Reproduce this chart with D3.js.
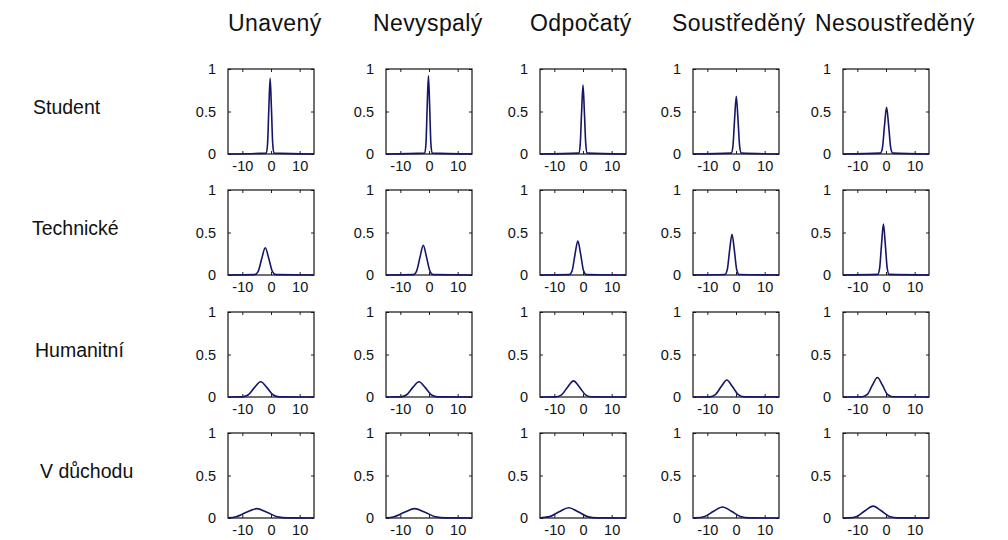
<!DOCTYPE html>
<html>
<head>
<meta charset="utf-8">
<script src="https://cdn.jsdelivr.net/npm/d3@7"></script>
<style>
  html, body { margin: 0; padding: 0; background: #ffffff; }
  svg { display: block; }
  text { font-family: "Liberation Sans", Arial, sans-serif; fill: #111; }
</style>
</head>
<body>
<svg id="chart" width="1008" height="540"></svg>
<script>
// Column (state) and row (group) labels
const columnLabels = ["Unavený", "Nevyspalý", "Odpočatý", "Soustředěný", "Nesoustředěný"];
const rowLabels = ["Student", "Technické", "Humanitní", "V důchodu"];

// Axis ticks shared by every panel
const xTicks = [-10, 0, 10];
const yTicks = [0, 0.5, 1];
const xDomain = [-15, 15];
const yDomain = [0, 1];

// Density curves, one [x, y] list per column, for each row
const studentCurves = [
  [[-15,0],[-1.65,0.01],[-1.2,0.12],[-0.75,0.54],[-0.3,0.89],[0.15,0.54],[0.6,0.12],[1.05,0.01],[15,0]],
  [[-15,0],[-1.5,0.01],[-1.06,0.12],[-0.63,0.56],[-0.2,0.92],[0.23,0.56],[0.66,0.12],[1.1,0.01],[15,0]],
  [[-15,0],[-1.47,0.01],[-0.98,0.11],[-0.49,0.49],[0,0.81],[0.49,0.49],[0.98,0.11],[1.47,0.01],[15,0]],
  [[-15,0],[-1.67,0.01],[-1.08,0.09],[-0.49,0.41],[0.1,0.68],[0.69,0.41],[1.28,0.09],[1.87,0.01],[15,0]],
  [[-15,0],[-1.99,0.01],[-1.26,0.07],[-0.53,0.33],[0.2,0.55],[0.93,0.33],[1.66,0.07],[2.39,0.01],[15,0]]
];
const technickeCurves = [
  [[-15,0],[-5.75,0.004],[-4.5,0.04],[-3.25,0.19],[-2,0.32],[-0.75,0.19],[0.5,0.04],[1.75,0.004],[15,0]],
  [[-15,0],[-5.42,0.004],[-4.28,0.05],[-3.14,0.21],[-2,0.35],[-0.86,0.21],[0.28,0.05],[1.42,0.004],[15,0]],
  [[-15,0],[-4.8,0.004],[-3.8,0.05],[-2.8,0.24],[-1.8,0.40],[-0.8,0.24],[0.2,0.05],[1.2,0.004],[15,0]],
  [[-15,0],[-3.9,0.005],[-3.06,0.06],[-2.23,0.29],[-1.4,0.48],[-0.57,0.29],[0.26,0.06],[1.1,0.005],[15,0]],
  [[-15,0],[-2.88,0.007],[-2.22,0.08],[-1.56,0.36],[-0.9,0.60],[-0.24,0.36],[0.42,0.08],[1.08,0.007],[15,0]]
];
const humanitniCurves = [
  [[-15,0],[-10.2,0.002],[-8,0.024],[-5.8,0.11],[-3.6,0.18],[-1.4,0.11],[0.8,0.024],[3,0.002],[15,0]],
  [[-15,0],[-10.1,0.002],[-7.9,0.024],[-5.7,0.11],[-3.5,0.18],[-1.3,0.11],[0.9,0.024],[3.1,0.002],[15,0]],
  [[-15,0],[-9.6,0.002],[-7.5,0.026],[-5.4,0.115],[-3.3,0.19],[-1.2,0.115],[0.9,0.026],[3,0.002],[15,0]],
  [[-15,0],[-9.2,0.002],[-7.2,0.027],[-5.2,0.12],[-3.2,0.20],[-1.2,0.12],[0.8,0.027],[2.8,0.002],[15,0]],
  [[-15,0],[-8.25,0.003],[-6.5,0.03],[-4.75,0.14],[-3,0.23],[-1.25,0.14],[0.5,0.03],[2.25,0.003],[15,0]]
];
const duchodCurves = [
  [[-15,0.001],[-12.2,0.015],[-8.6,0.067],[-5,0.11],[-1.4,0.067],[2.2,0.015],[5.8,0.001],[15,0]],
  [[-15,0.001],[-12.2,0.015],[-8.6,0.067],[-5,0.11],[-1.4,0.067],[2.2,0.015],[5.8,0.001],[15,0]],
  [[-15,0],[-14.9,0.001],[-11.6,0.016],[-8.3,0.073],[-5,0.12],[-1.7,0.073],[1.6,0.016],[4.9,0.001],[15,0]],
  [[-15,0],[-14,0.001],[-10.9,0.018],[-7.8,0.079],[-4.7,0.13],[-1.6,0.079],[1.5,0.018],[4.6,0.001],[15,0]],
  [[-15,0],[-13.05,0.002],[-10.2,0.019],[-7.35,0.085],[-4.5,0.14],[-1.65,0.085],[1.2,0.019],[4.05,0.002],[15,0]]
];
const curvesByRow = [studentCurves, technickeCurves, humanitniCurves, duchodCurves];

// Grid layout of the small panels
const panelLefts = [228, 386, 540, 693, 843];
const panelTops = [69, 190, 312, 433];
const panelW = 86, panelH = 85;
const titleLefts = [228, 373, 530, 672, 815];
const rowLabelLefts = [33, 32, 35, 40];
const lineColor = "#15156a";

const svg = d3.select("#chart");

// Column headings
svg.selectAll("text.col-title")
  .data(columnLabels)
  .join("text")
  .attr("class", "col-title")
  .attr("x", (d, i) => titleLefts[i])
  .attr("y", 31)
  .attr("font-size", 23)
  .attr("letter-spacing", 0.4)
  .text(d => d);

// Row headings
svg.selectAll("text.row-title")
  .data(rowLabels)
  .join("text")
  .attr("class", "row-title")
  .attr("x", (d, i) => rowLabelLefts[i])
  .attr("y", (d, i) => panelTops[i] + 45)
  .attr("font-size", 19.5)
  .text(d => d);

const x = d3.scaleLinear().domain(xDomain).range([0, panelW]);
const y = d3.scaleLinear().domain(yDomain).range([panelH, 0]);

const line = d3.line()
  .x(d => x(d[0]))
  .y(d => y(d[1]))
  .curve(d3.curveMonotoneX);

curvesByRow.forEach((rowCurves, r) => {
  rowCurves.forEach((pts, c) => {
    const g = svg.append("g")
      .attr("transform", `translate(${panelLefts[c]},${panelTops[r]})`);

    // Axes with inward ticks on all four sides of the box
    const yAxis = g.append("g").call(
      d3.axisLeft(y).tickValues(yTicks).tickSize(-3).tickPadding(12)
        .tickFormat(d3.format("~g")));
    const yAxisR = g.append("g").attr("transform", `translate(${panelW},0)`)
      .call(d3.axisRight(y).tickValues(yTicks).tickSize(-3).tickFormat(""));
    const xAxis = g.append("g").attr("transform", `translate(0,${panelH})`)
      .call(d3.axisBottom(x).tickValues(xTicks).tickSize(-3).tickPadding(7)
        .tickFormat(d3.format("~g")));
    const xAxisT = g.append("g")
      .call(d3.axisTop(x).tickValues(xTicks).tickSize(-3).tickFormat(""));

    [yAxis, yAxisR, xAxis, xAxisT].forEach(a => {
      a.select(".domain").remove();
      a.selectAll("line").attr("stroke", "#222").attr("stroke-width", 1);
      a.selectAll("text")
        .attr("font-size", 14.5)
        .attr("font-family", "'Liberation Sans', Arial, sans-serif")
        .attr("fill", "#111");
    });
    xAxis.selectAll("text").text(d => d < 0 ? "-" + Math.abs(d) : d);

    // Box
    g.append("rect")
      .attr("x", 0).attr("y", 0)
      .attr("width", panelW).attr("height", panelH)
      .attr("fill", "none")
      .attr("stroke", "#111")
      .attr("stroke-width", 1.2);

    // Density curve
    g.append("path")
      .datum(pts)
      .attr("d", line)
      .attr("fill", "none")
      .attr("stroke", lineColor)
      .attr("stroke-width", 1.6);
  });
});
</script>
</body>
</html>
